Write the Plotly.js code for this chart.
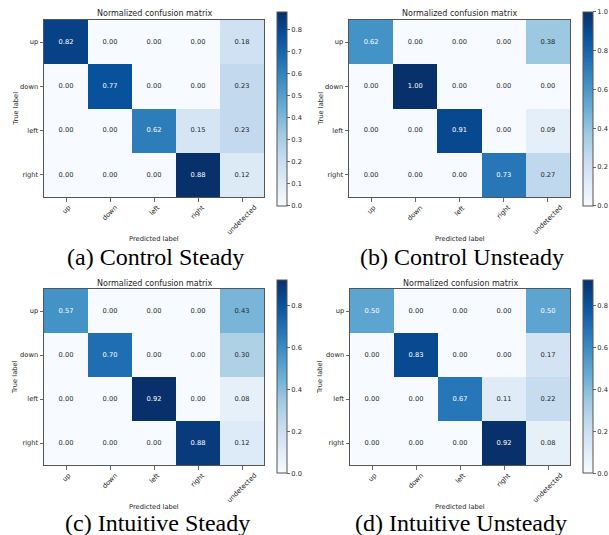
<!DOCTYPE html>
<html>
<head>
<meta charset="utf-8">
<script src="https://cdn.plot.ly/plotly-3.0.1.min.js"></script>
<style>html,body{margin:0;padding:0;background:#fff;}#chart{width:609px;height:535px;}</style>
</head>
<body>
<div id="chart"></div>
<script>
// ---- data ----
const trueLabels = ['up', 'down', 'left', 'right'];
const predLabels = ['up', 'down', 'left', 'right', 'undetected'];
const cmControlSteady = [
  [0.82, 0.00, 0.00, 0.00, 0.18],
  [0.00, 0.77, 0.00, 0.00, 0.23],
  [0.00, 0.00, 0.62, 0.15, 0.23],
  [0.00, 0.00, 0.00, 0.88, 0.12]
];
const cmControlUnsteady = [
  [0.62, 0.00, 0.00, 0.00, 0.38],
  [0.00, 1.00, 0.00, 0.00, 0.00],
  [0.00, 0.00, 0.91, 0.00, 0.09],
  [0.00, 0.00, 0.00, 0.73, 0.27]
];
const cmIntuitiveSteady = [
  [0.57, 0.00, 0.00, 0.00, 0.43],
  [0.00, 0.70, 0.00, 0.00, 0.30],
  [0.00, 0.00, 0.92, 0.00, 0.08],
  [0.00, 0.00, 0.00, 0.88, 0.12]
];
const cmIntuitiveUnsteady = [
  [0.50, 0.00, 0.00, 0.00, 0.50],
  [0.00, 0.83, 0.00, 0.00, 0.17],
  [0.00, 0.00, 0.67, 0.11, 0.22],
  [0.00, 0.00, 0.00, 0.92, 0.08]
];
const captions = ['(a) Control Steady', '(b) Control Unsteady', '(c) Intuitive Steady', '(d) Intuitive Unsteady'];
const cbTicksA = [0, 0.1, 0.2, 0.3, 0.4, 0.5, 0.6, 0.7, 0.8];
const cbTicksB = [0, 0.2, 0.4, 0.6, 0.8, 1.0];
const cbTicksC = [0, 0.2, 0.4, 0.6, 0.8];
const cbTicksD = [0, 0.2, 0.4, 0.6, 0.8];
const plotTitle = 'Normalized confusion matrix';
const xTitle = 'Predicted label';
const yTitle = 'True label';

// ---- styling / layout ----
const W = 609, H = 535;
const blues = [
  [0.0, '#f7fbff'], [0.125, '#deebf7'], [0.25, '#c6dbef'], [0.375, '#9ecae1'],
  [0.5, '#6baed6'], [0.625, '#4292c6'], [0.75, '#2171b5'], [0.875, '#08519c'], [1.0, '#08306b']
];
const FONT = 'DejaVu Sans';
const TXT = '#262626';
const FS = 6.7;
const panels = [
  {cm: cmControlSteady, ticks: cbTicksA, px: [44, 264], py: [20, 197], cbx: 277, cby: [11.7, 205.7], cap: [155, 257], xt: 239, yt: 15},
  {cm: cmControlUnsteady, ticks: cbTicksB, px: [349, 570], py: [20, 197], cbx: 583, cby: [12, 205.7], cap: [462, 257], xt: 239, yt: 320},
  {cm: cmIntuitiveSteady, ticks: cbTicksC, px: [44, 264], py: [289, 465], cbx: 277, cby: [280, 473.3], cap: [157, 523], xt: 507, yt: 15},
  {cm: cmIntuitiveUnsteady, ticks: cbTicksD, px: [350, 570], py: [289, 465], cbx: 583, cby: [280, 473.3], cap: [461, 523], xt: 507, yt: 320}
];

const data = [];
const layout = {
  width: W, height: H,
  margin: {l: 0, r: 0, t: 0, b: 0},
  paper_bgcolor: '#fff', plot_bgcolor: '#fff',
  showlegend: false,
  font: {family: FONT, color: TXT, size: FS},
  annotations: []
};

panels.forEach((p, k) => {
  const sfx = k === 0 ? '' : String(k + 1);
  const xa = 'x' + sfx, ya = 'y' + sfx;
  const zmax = Math.max(...p.cm.flat());
  const thresh = zmax / 2;
  data.push({
    type: 'heatmap', z: p.cm, x: predLabels, y: trueLabels,
    xaxis: xa, yaxis: ya, zmin: 0, zmax: zmax,
    colorscale: blues, hoverinfo: 'skip',
    colorbar: {
      x: p.cbx / W, xref: 'paper', xanchor: 'left', xpad: 0, ypad: 0,
      y: 1 - (p.cby[0] + p.cby[1]) / 2 / H, yanchor: 'middle',
      len: p.cby[1] - p.cby[0], lenmode: 'pixels',
      thickness: 10, thicknessmode: 'pixels',
      outlinewidth: 1, outlinecolor: '#555',
      ticks: 'outside', ticklen: 3, tickcolor: '#444', tickwidth: 0.8,
      tickvals: p.ticks, ticktext: p.ticks.map(v => v.toFixed(1)),
      tickfont: {family: FONT, size: FS, color: TXT}
    }
  });
  // cell text
  const tx = [], ty = [], tt = [], tc = [];
  p.cm.forEach((row, i) => row.forEach((v, j) => {
    tx.push(predLabels[j]); ty.push(trueLabels[i]);
    tt.push(v.toFixed(2)); tc.push(v > thresh ? '#ffffff' : TXT);
  }));
  data.push({
    type: 'scatter', mode: 'text', x: tx, y: ty, text: tt,
    textfont: {family: FONT, size: FS, color: tc},
    xaxis: xa, yaxis: ya, hoverinfo: 'skip', showlegend: false
  });
  layout['xaxis' + sfx] = {
    domain: [p.px[0] / W, p.px[1] / W], anchor: ya,
    type: 'category', categoryarray: predLabels, categoryorder: 'array',
    showgrid: false, zeroline: false,
    showline: true, mirror: true, linecolor: '#555', linewidth: 1,
    ticks: 'outside', ticklen: 3.5, tickcolor: '#444', tickwidth: 0.8,
    showticklabels: false,
    fixedrange: true
  };
  layout['yaxis' + sfx] = {
    domain: [1 - p.py[1] / H, 1 - p.py[0] / H], anchor: xa,
    type: 'category', categoryarray: trueLabels, categoryorder: 'array',
    autorange: 'reversed',
    showgrid: false, zeroline: false,
    showline: true, mirror: true, linecolor: '#555', linewidth: 1,
    ticks: 'outside', ticklen: 3.5, tickcolor: '#444', tickwidth: 0.8,
    tickfont: {family: FONT, size: FS, color: TXT},
    fixedrange: true
  };
  // rotated x tick labels (bbox centred under each tick, as in the reference)
  predLabels.forEach(lab => {
    layout.annotations.push({
      xref: xa, yref: 'paper', x: lab, y: 1 - (p.py[1] + 5.5) / H,
      xanchor: 'center', yanchor: 'top', showarrow: false, borderpad: 0,
      textangle: -45, text: lab, font: {family: FONT, size: FS, color: TXT}
    });
  });
  // axis titles
  layout.annotations.push({
    xref: 'paper', yref: 'paper',
    x: (p.px[0] + p.px[1]) / 2 / W, y: 1 - p.xt / H,
    xanchor: 'center', yanchor: 'middle', showarrow: false, borderpad: 0,
    text: xTitle, font: {family: FONT, size: FS, color: TXT}
  });
  layout.annotations.push({
    xref: 'paper', yref: 'paper',
    x: p.yt / W, y: 1 - (p.py[0] + p.py[1]) / 2 / H,
    xanchor: 'center', yanchor: 'middle', showarrow: false, borderpad: 0,
    textangle: -90, text: yTitle, font: {family: FONT, size: FS, color: TXT}
  });
  // subplot title
  layout.annotations.push({
    xref: 'paper', yref: 'paper',
    x: (p.px[0] + p.px[1]) / 2 / W, y: 1 - (p.py[0] - 6) / H,
    xanchor: 'center', yanchor: 'middle', showarrow: false, borderpad: 0,
    text: plotTitle, font: {family: FONT, size: 8, color: TXT}
  });
  // caption
  layout.annotations.push({
    xref: 'paper', yref: 'paper',
    x: p.cap[0] / W, y: 1 - p.cap[1] / H,
    xanchor: 'center', yanchor: 'middle', showarrow: false, borderpad: 0,
    text: captions[k], font: {family: 'Liberation Serif, Times New Roman, serif', size: 24, color: '#000'}
  });
});

Plotly.newPlot('chart', data, layout, {displayModeBar: false, staticPlot: true});
</script>
</body>
</html>
